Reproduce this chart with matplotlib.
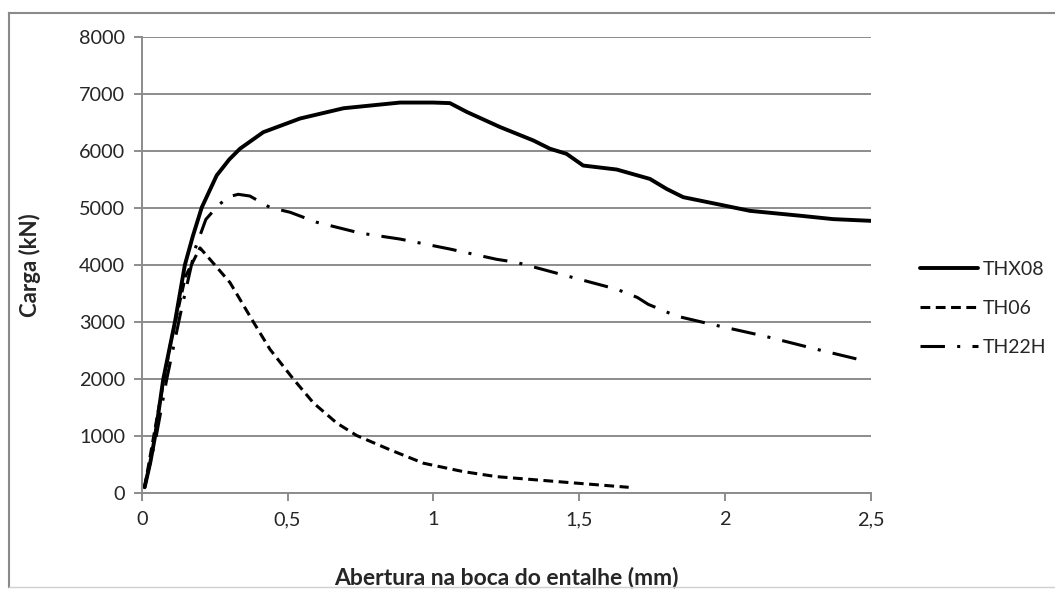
import matplotlib
matplotlib.use("Agg")
import matplotlib.pyplot as plt
from matplotlib.lines import Line2D

plt.rcParams['font.family'] = ['Lato', 'DejaVu Sans']

# Crack mouth opening (mm) vs load (kN) for three specimens
thx08_x = [0.01, 0.03, 0.046, 0.074, 0.114, 0.148, 0.175, 0.206, 0.257, 0.30, 0.337,
           0.417, 0.543, 0.692, 0.886, 1.0, 1.057, 1.115, 1.229, 1.343, 1.400, 1.457,
           1.514, 1.629, 1.743, 1.80, 1.857, 1.972, 2.086, 2.257, 2.371, 2.50]
thx08_y = [100, 550, 1000, 2000, 3000, 4000, 4500, 5010, 5570, 5850, 6040,
           6330, 6570, 6750, 6850, 6850, 6840, 6685, 6420, 6185, 6040, 5950,
           5745, 5675, 5510, 5335, 5190, 5070, 4950, 4865, 4805, 4775]

th06_x = [0.01, 0.05, 0.10, 0.15, 0.20, 0.251, 0.303, 0.383, 0.44, 0.52, 0.589,
          0.669, 0.737, 0.852, 0.966, 1.103, 1.217, 1.471, 1.67]
th06_y = [100, 1250, 2650, 3800, 4300, 4000, 3690, 3000, 2520, 2000, 1580,
          1227, 1009, 757, 523, 375, 287, 181, 100]

th22h_x = [0.01, 0.05, 0.086, 0.131, 0.183, 0.22, 0.263, 0.30, 0.331, 0.371, 0.44,
           0.509, 0.60, 0.749, 0.886, 1.057, 1.217, 1.286, 1.457, 1.629, 1.70,
           1.737, 1.834, 1.955, 2.136, 2.318, 2.451]
th22h_y = [100, 1000, 2000, 3100, 4280, 4800, 5050, 5200, 5240, 5210, 5010,
           4925, 4750, 4560, 4455, 4280, 4100, 4045, 3810, 3575, 3430,
           3310, 3104, 2958, 2752, 2517, 2353]

x_ticks = [0, 0.5, 1, 1.5, 2, 2.5]
x_tick_labels = ['0', '0,5', '1', '1,5', '2', '2,5']
y_ticks = [0, 1000, 2000, 3000, 4000, 5000, 6000, 7000, 8000]

series_names = ['THX08', 'TH06', 'TH22H']

W, H = 1055, 590
fig = plt.figure(figsize=(W / 100, H / 100), dpi=100)
ax = fig.add_axes([141.7 / W, 1 - 493 / H, (870.7 - 141.7) / W, (493 - 37) / H])

grid_col = '#8c8c8c'
text_col = '#262626'

ax.plot(thx08_x, thx08_y, color='black', lw=2.8, solid_capstyle='round',
        solid_joinstyle='round', label=series_names[0])
ax.plot(th06_x, th06_y, color='black', lw=2.2, linestyle=(0, (3.2, 1.8)),
        label=series_names[1])
ax.plot(th22h_x, th22h_y, color='black', lw=2.2, linestyle=(0, (8, 4, 1, 4)),
        label=series_names[2])

ax.set_xlim(0, 2.5)
ax.set_ylim(0, 8000)
ax.set_xticks(x_ticks)
ax.set_xticklabels(x_tick_labels)
ax.set_yticks(y_ticks)
ax.yaxis.grid(True, color=grid_col, lw=1.4)
ax.set_axisbelow(True)

for side in ('top', 'right'):
    ax.spines[side].set_visible(False)
for side in ('left', 'bottom'):
    ax.spines[side].set_color(grid_col)
    ax.spines[side].set_linewidth(1.4)

ax.tick_params(axis='both', direction='out', length=6, width=1.4, color=grid_col,
               labelsize=14.3, labelcolor=text_col)
ax.tick_params(axis='x', pad=7)
ax.tick_params(axis='y', pad=6)

ax.set_xlabel('Abertura na boca do entalhe (mm)', fontsize=16.5, fontweight='bold',
              color=text_col, labelpad=28)
ax.set_ylabel('Carga (kN)', fontsize=16, fontweight='bold', color=text_col,
              labelpad=27)

leg = ax.legend(loc='upper left', bbox_to_anchor=(904 / W, 1 - 245 / H),
                bbox_transform=fig.transFigure, frameon=False, fontsize=14,
                handlelength=3.0, handletextpad=0.25, labelspacing=1.15,
                borderpad=0.3, labelcolor=text_col)

# Outer chart-area border
border_col = '#8a8a8a'
fig.add_artist(Line2D([9 / W, 9 / W], [1 - 13 / H, 1 - 587 / H],
                      transform=fig.transFigure, color=border_col, lw=1.5))
fig.add_artist(Line2D([9 / W, 1.0], [1 - 13 / H, 1 - 13 / H],
                      transform=fig.transFigure, color=border_col, lw=1.5))
fig.add_artist(Line2D([9 / W, 1.0], [1 - 587 / H, 1 - 587 / H],
                      transform=fig.transFigure, color='#d0d0d0', lw=1.0))

fig.savefig('out.png', dpi=100, facecolor='white')
